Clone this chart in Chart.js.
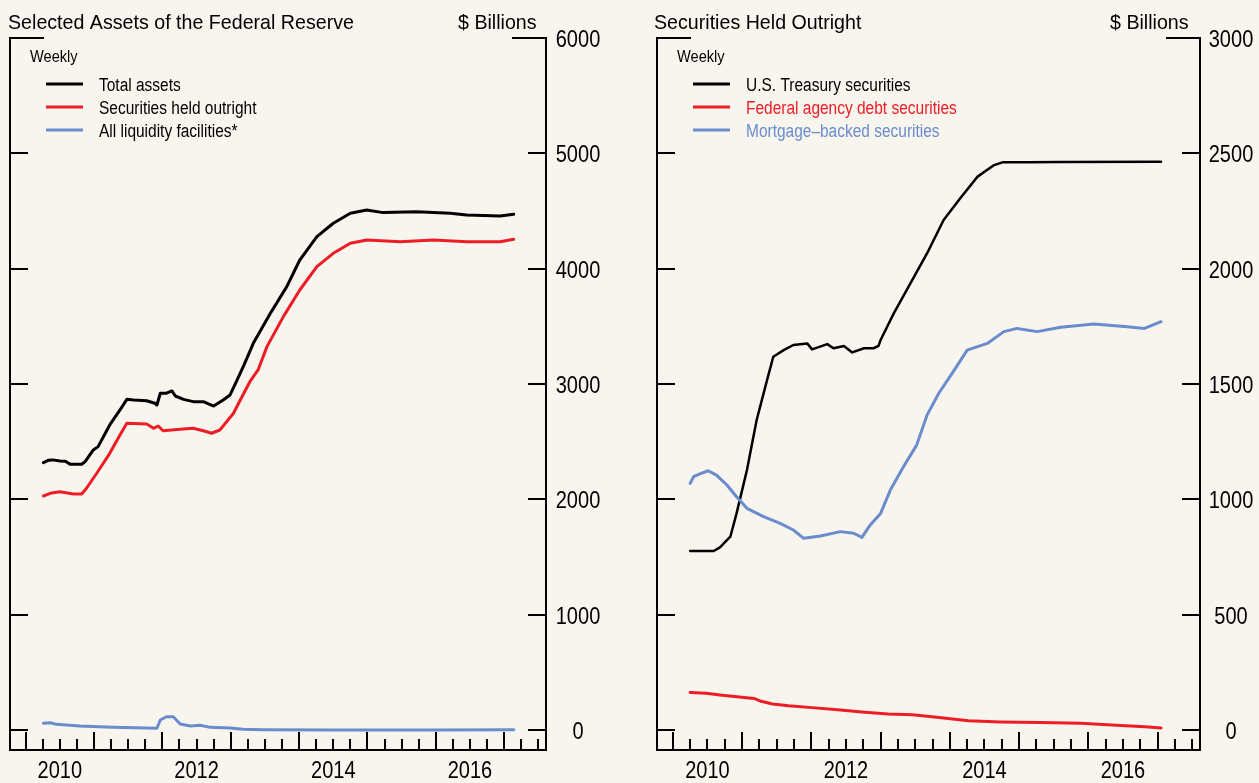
<!DOCTYPE html>
<html>
<head>
<meta charset="utf-8">
<script src="https://cdn.jsdelivr.net/npm/chart.js@4.4.1/dist/chart.umd.min.js"></script>
<style>
  html, body { margin:0; padding:0; background:#f8f5ef; }
  #wrap { position:relative; width:1259px; height:783px; overflow:hidden; background:#f8f5ef; }
  canvas { position:absolute; top:0; }
  #c1 { left:0; }
  #c2 { left:630px; }
</style>
</head>
<body>
<div id="wrap">
  <canvas id="c1" width="630" height="783"></canvas>
  <canvas id="c2" width="629" height="783"></canvas>
</div>
<script>
// ---------------- DATA ($ billions, dates as decimal years) ----------------
// Left panel: Selected Assets of the Federal Reserve
const totalAssetsDates = [2010.26,2010.33,2010.40,2010.50,2010.58,2010.65,2010.82,2010.87,2010.99,2011.06,2011.23,2011.38,2011.48,2011.58,2011.77,2011.89,2011.92,2011.97,2012.06,2012.14,2012.19,2012.31,2012.45,2012.60,2012.75,2012.89,2012.99,2013.06,2013.19,2013.33,2013.58,2013.82,2014.01,2014.26,2014.50,2014.75,2014.99,2015.23,2015.72,2016.21,2016.45,2016.94,2017.14];
const totalAssets      = [2318,2338,2342,2332,2330,2305,2304,2327,2428,2457,2645,2775,2867,2861,2855,2833,2818,2920,2920,2940,2896,2867,2847,2847,2809,2861,2905,2992,3160,3353,3613,3844,4075,4278,4394,4480,4509,4486,4494,4480,4465,4457,4472];

const securitiesDates  = [2010.26,2010.36,2010.50,2010.70,2010.82,2010.89,2011.04,2011.23,2011.38,2011.48,2011.77,2011.87,2011.94,2012.01,2012.26,2012.45,2012.60,2012.72,2012.84,2012.94,2013.04,2013.14,2013.28,2013.40,2013.53,2013.77,2014.01,2014.26,2014.50,2014.75,2014.99,2015.48,2015.97,2016.45,2016.94,2017.14];
const securities       = [2029,2052,2066,2046,2046,2096,2226,2399,2558,2659,2653,2616,2636,2595,2607,2616,2595,2573,2601,2673,2746,2861,3020,3122,3324,3584,3815,4017,4133,4220,4249,4234,4249,4234,4234,4255];

const liquidityDates   = [2010.26,2010.36,2010.45,2010.79,2011.28,2011.92,2011.97,2012.06,2012.16,2012.26,2012.41,2012.55,2012.70,2012.99,2013.18,2013.48,2014.50,2016.00,2017.14];
const liquidity        = [58,63,49,35,23,15,87,115,115,52,35,41,23,17,6,2,1,1,2];

// Right panel: Securities Held Outright
const treasuryDates    = [2010.25,2010.59,2010.68,2010.83,2010.92,2011.07,2011.21,2011.36,2011.45,2011.60,2011.74,2011.94,2012.01,2012.23,2012.32,2012.47,2012.59,2012.76,2012.90,2012.97,2013.00,2013.19,2013.43,2013.67,2013.91,2014.15,2014.40,2014.64,2014.76,2015.12,2015.60,2017.05];
const treasury         = [776,776,792,838,939,1127,1344,1517,1618,1647,1669,1676,1650,1673,1655,1665,1637,1655,1655,1665,1691,1806,1936,2066,2211,2305,2399,2449,2461,2461,2462,2464];

const agencyDates      = [2010.25,2010.48,2010.68,2011.17,2011.26,2011.44,2011.67,2012.01,2012.42,2012.77,2013.11,2013.46,2013.81,2014.27,2014.73,2015.31,2015.89,2016.47,2016.82,2017.05];
const agency           = [163,159,152,137,126,113,105,97,87,77,69,66,55,40,35,32,29,20,14,9];

const mbsDates         = [2010.25,2010.30,2010.39,2010.51,2010.63,2010.78,2010.92,2011.07,2011.31,2011.55,2011.74,2011.89,2012.13,2012.42,2012.61,2012.73,2012.85,2013.00,2013.14,2013.33,2013.52,2013.67,2013.84,2014.03,2014.25,2014.54,2014.78,2014.97,2015.26,2015.60,2016.08,2016.56,2016.81,2017.05];
const mbs              = [1069,1098,1110,1124,1105,1062,1011,961,925,896,867,831,841,860,853,835,889,939,1040,1141,1235,1365,1460,1545,1647,1676,1727,1741,1727,1746,1760,1748,1741,1770];

// Axis ticks / labels
const leftYTicks   = [0,1000,2000,3000,4000,5000,6000];
const rightYTicks  = [0,500,1000,1500,2000,2500,3000];
const yearTicks    = [2010,2011,2012,2013,2014,2015,2016,2017];
const yearLabels   = ['2010','2012','2014','2016'];

const leftTitle  = 'Selected Assets of the Federal Reserve';
const rightTitle = 'Securities Held Outright';
const unitLabel  = '$ Billions';
const freqLabel  = 'Weekly';
const leftSeriesNames  = ['Total assets','Securities held outright','All liquidity facilities*'];
const rightSeriesNames = ['U.S. Treasury securities','Federal agency debt securities','Mortgage\u2013backed securities'];

// ---------------- STYLE ----------------
const BLACK = '#000000', RED = '#ee1c25', BLUE = '#6a8ccc', BG = '#f8f5ef';
const FONT = '"Liberation Sans", Arial, "DejaVu Sans", sans-serif';
const X_MIN = 2009.771, X_MAX = 2017.612;

function pts(dates, vals) { return dates.map((d, i) => ({ x: d, y: vals[i] })); }

function txt(ctx, s, x, y, size, sx, align, color) {
  ctx.save();
  ctx.font = size + 'px ' + FONT;
  ctx.fillStyle = color || BLACK;
  ctx.textBaseline = 'alphabetic';
  ctx.textAlign = 'left';
  const w = ctx.measureText(s).width * sx;
  const x0 = align === 'center' ? x - w / 2 : (align === 'right' ? x - w : x);
  ctx.translate(x0, y);
  ctx.scale(sx, 1);
  ctx.fillText(s, 0, 0);
  ctx.restore();
}

function makeFramePlugin(cfg) {
  return {
    id: 'frame',
    beforeDraw(chart) {
      const ctx = chart.ctx;
      ctx.save();
      ctx.fillStyle = BG;
      ctx.fillRect(0, 0, chart.width, chart.height);
      ctx.restore();
    },
    afterDraw(chart) {
      const ctx = chart.ctx;
      const a = chart.chartArea;
      const xs = chart.scales.x, ys = chart.scales.y;
      ctx.save();
      ctx.strokeStyle = BLACK;
      ctx.lineWidth = 2;
      ctx.lineCap = 'butt';
      // frame: left, right, bottom
      ctx.beginPath();
      ctx.moveTo(a.left, a.top - 1); ctx.lineTo(a.left, a.bottom);
      ctx.lineTo(a.right, a.bottom); ctx.lineTo(a.right, a.top - 1);
      ctx.stroke();
      // y ticks (inward on both sides)
      cfg.yTicks.forEach((v, i) => {
        const py = Math.round(ys.getPixelForValue(v));
        const len = (i === cfg.yTicks.length - 1) ? 34 : 18;
        ctx.beginPath();
        ctx.moveTo(a.left, py); ctx.lineTo(a.left + len, py);
        ctx.moveTo(a.right, py); ctx.lineTo(a.right - len, py);
        ctx.stroke();
        txt(ctx, String(v), cfg.yLabelX, py + 9, 23, 0.87, 'center', BLACK);
      });
      // x ticks: major at year starts, minor at quarters
      yearTicks.forEach(yr => {
        [0, 0.25, 0.5, 0.75].forEach(q => {
          const v = yr + q;
          if (v < X_MIN || v > X_MAX) return;
          const px = Math.round(xs.getPixelForValue(v));
          const h = q === 0 ? 18 : 11;
          ctx.beginPath();
          ctx.moveTo(px, a.bottom); ctx.lineTo(px, a.bottom - h);
          ctx.stroke();
        });
      });
      // year labels centered mid-year
      yearLabels.forEach(l => {
        const px = xs.getPixelForValue(parseInt(l, 10) + 0.5);
        txt(ctx, l, px, 778, 23, 0.87, 'center', BLACK);
      });
      // titles
      txt(ctx, cfg.title, cfg.titleX, 29, 21, 0.935, 'left', BLACK);
      txt(ctx, unitLabel, cfg.unitX, 29, 21, 0.935, 'left', BLACK);
      txt(ctx, freqLabel, a.left + 20, 61.5, 17, 0.86, 'left', BLACK);
      // legend
      cfg.names.forEach((n, i) => {
        const ly = 84 + i * 23;
        ctx.save();
        ctx.strokeStyle = cfg.colors[i];
        ctx.lineWidth = 3;
        ctx.beginPath();
        ctx.moveTo(a.left + 36, ly); ctx.lineTo(a.left + 73, ly);
        ctx.stroke();
        ctx.restore();
        txt(ctx, n, a.left + 89, ly + 6.5, 18, 0.86, 'left', cfg.textColors[i]);
      });
      ctx.restore();
    }
  };
}

function makeChart(id, datasets, yMin, yMax, padding, cfg) {
  return new Chart(document.getElementById(id), {
    type: 'line',
    data: { datasets },
    options: {
      responsive: false,
      animation: false,
      devicePixelRatio: 1,
      layout: { padding },
      plugins: { legend: { display: false }, tooltip: { enabled: false } },
      elements: { point: { radius: 0 }, line: { tension: 0, borderJoinStyle: 'round', borderCapStyle: 'round' } },
      scales: {
        x: { type: 'linear', min: X_MIN, max: X_MAX, display: false },
        y: { type: 'linear', min: yMin, max: yMax, display: false }
      }
    },
    plugins: [makeFramePlugin(cfg)]
  });
}

// Left chart: chart area 10..546 x 38..750 ; zero at 730
makeChart('c1', [
  { label: leftSeriesNames[2], data: pts(liquidityDates, liquidity), borderColor: BLUE, borderWidth: 3 },
  { label: leftSeriesNames[1], data: pts(securitiesDates, securities), borderColor: RED, borderWidth: 3 },
  { label: leftSeriesNames[0], data: pts(totalAssetsDates, totalAssets), borderColor: BLACK, borderWidth: 3 }
], -20 * 6000 / 692, 6000, { left: 10, top: 38, right: 84, bottom: 33 }, {
  yTicks: leftYTicks, yLabelX: 578, title: leftTitle, titleX: 8, unitX: 458,
  names: leftSeriesNames, colors: [BLACK, RED, BLUE], textColors: [BLACK, BLACK, BLACK]
});

// Right chart: chart area 657..1199 (canvas offset 630) x 38..750
makeChart('c2', [
  { label: rightSeriesNames[1], data: pts(agencyDates, agency), borderColor: RED, borderWidth: 3 },
  { label: rightSeriesNames[2], data: pts(mbsDates, mbs), borderColor: BLUE, borderWidth: 3 },
  { label: rightSeriesNames[0], data: pts(treasuryDates, treasury), borderColor: BLACK, borderWidth: 2.5 }
], -20 * 3000 / 692, 3000, { left: 27, top: 38, right: 59, bottom: 33 }, {
  yTicks: rightYTicks, yLabelX: 601, title: rightTitle, titleX: 24, unitX: 480,
  names: rightSeriesNames, colors: [BLACK, RED, BLUE], textColors: [BLACK, RED, BLUE]
});
</script>
</body>
</html>
